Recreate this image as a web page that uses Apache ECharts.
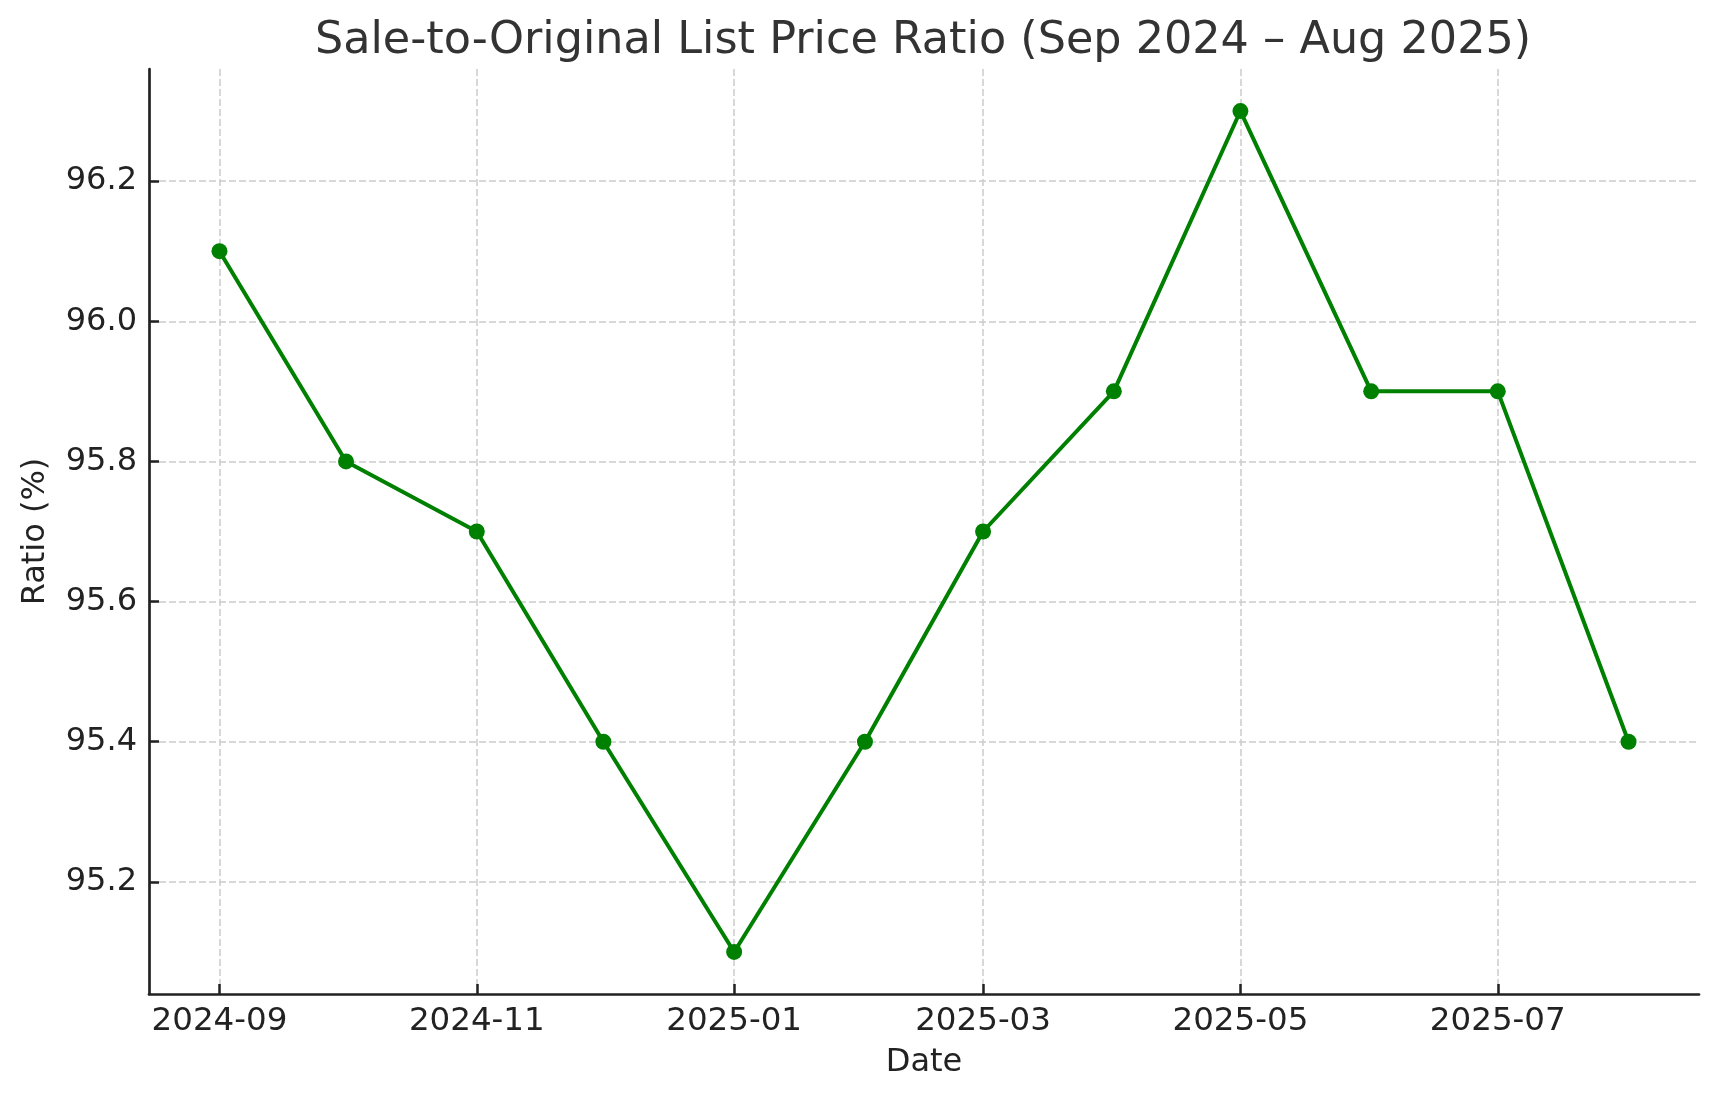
<!DOCTYPE html>
<html>
<head>
<meta charset="utf-8">
<script src="https://cdn.jsdelivr.net/npm/echarts@6/dist/echarts.min.js"></script>
<style>
  html, body { margin: 0; padding: 0; background: #ffffff; }
  #chart { width: 1718px; height: 1101px; }
</style>
</head>
<body>
<div id="chart"></div>
<script>
// ---- Data ----
const months = ['2024-09', '2024-10', '2024-11', '2024-12', '2025-01', '2025-02',
                '2025-03', '2025-04', '2025-05', '2025-06', '2025-07', '2025-08'];
const ratios = [96.1, 95.8, 95.7, 95.4, 95.1, 95.4, 95.7, 95.9, 96.3, 95.9, 95.9, 95.4];
const xTickLabels = ['2024-09', '2024-11', '2025-01', '2025-03', '2025-05', '2025-07'];
const yTicks = [95.2, 95.4, 95.6, 95.8, 96.0, 96.2];

const titleText = 'Sale-to-Original List Price Ratio (Sep 2024 \u2013 Aug 2025)';
const xName = 'Date';
const yName = 'Ratio (%)';

// ---- Helpers ----
function monthToTs(m) {
  const [y, mo] = m.split('-').map(Number);
  return Date.UTC(y, mo - 1, 1);
}
function fmtMonth(ts) {
  const d = new Date(ts);
  const mo = d.getUTCMonth() + 1;
  return d.getUTCFullYear() + '-' + (mo < 10 ? '0' + mo : '' + mo);
}

const xs = months.map(monthToTs);
const xTicks = xTickLabels.map(monthToTs);
const seriesData = xs.map((t, i) => [t, ratios[i]]);

// matplotlib-style 5% margins
const xSpan = xs[xs.length - 1] - xs[0];
const xMin = xs[0] - 0.05 * xSpan;
const xMax = xs[xs.length - 1] + 0.05 * xSpan;
const yLo = Math.min(...ratios), yHi = Math.max(...ratios);
const ySpan = yHi - yLo;
const yMin = yLo - 0.05 * ySpan;
const yMax = yHi + 0.05 * ySpan;

const FONT = 'DejaVu Sans';
const chart = echarts.init(document.getElementById('chart'), null, { renderer: 'canvas' });

chart.setOption({
  backgroundColor: '#ffffff',
  animation: false,
  title: {
    text: titleText,
    left: 918,
    top: 14,
    textAlign: 'center',
    textStyle: { fontFamily: FONT, fontSize: 44.5, fontWeight: 'normal', color: '#333333' }
  },
  grid: { left: 149, right: 19, top: 69, bottom: 107, containLabel: false },
  xAxis: {
    type: 'value',
    min: xMin,
    max: xMax,
    scale: true,
    name: xName,
    nameLocation: 'middle',
    nameGap: 53,
    nameTextStyle: { fontFamily: FONT, fontSize: 32, color: '#222222' },
    axisLine: { show: true, onZero: false, lineStyle: { color: '#222222', width: 2.7 } },
    axisTick: { show: true, inside: true, length: 10, lineStyle: { color: '#222222', width: 2.5 }, customValues: xTicks },
    axisLabel: {
      show: true,
      customValues: xTicks,
      margin: 11,
      fontFamily: FONT, fontSize: 32.5, color: '#222222',
      formatter: function (v) { return fmtMonth(v); }
    },
    splitLine: { show: true, lineStyle: { color: '#cccccc', width: 1.5, type: [7, 3] } }
  },
  yAxis: {
    type: 'value',
    min: yMin,
    max: yMax,
    scale: true,
    name: yName,
    nameLocation: 'middle',
    nameGap: 97,
    nameRotate: 90,
    nameTextStyle: { fontFamily: FONT, fontSize: 32, color: '#222222' },
    axisLine: { show: true, onZero: false, lineStyle: { color: '#222222', width: 2.7 } },
    axisTick: { show: true, inside: true, length: 10, lineStyle: { color: '#222222', width: 2.5 }, customValues: yTicks },
    axisLabel: {
      show: true,
      customValues: yTicks,
      margin: 12,
      fontFamily: FONT, fontSize: 32, color: '#222222',
      formatter: function (v) { return v.toFixed(1); }
    },
    splitLine: { show: true, lineStyle: { color: '#cccccc', width: 1.5, type: [7, 3] } }
  },
  series: [{
    type: 'line',
    data: seriesData,
    lineStyle: { color: '#008000', width: 4 },
    itemStyle: { color: '#008000' },
    symbol: 'circle',
    symbolSize: 16,
    showSymbol: true,
    z: 5
  }]
});
</script>
</body>
</html>
